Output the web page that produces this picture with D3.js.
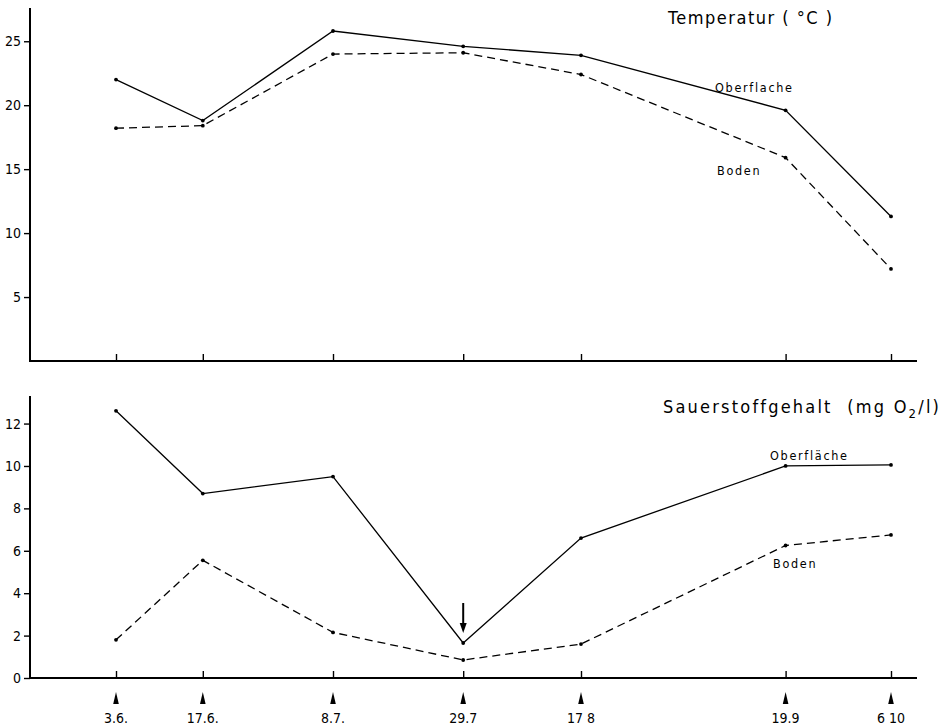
<!DOCTYPE html>
<html>
<head>
<meta charset="utf-8">
<script src="https://cdn.jsdelivr.net/npm/d3@7"></script>
<style>
  body { margin: 0; background: #fff; }
  text { font-family: "DejaVu Sans Condensed", "Liberation Sans Narrow", "DejaVu Sans", sans-serif; fill: #000; }
</style>
</head>
<body>
<div id="chart"></div>
<script>
// sampling dates and their printed labels
var sampleDates = ["1980-06-03", "1980-06-17", "1980-07-08", "1980-07-29", "1980-08-17", "1980-09-19", "1980-10-06"];
var dateLabels = ["3.6.", "17.6.", "8.7.", "29.7", "17 8", "19.9", "6 10"];

// Temperatur (°C)
var tempOberflache = [22.0, 18.8, 25.8, 24.6, 23.9, 19.6, 11.3];
var tempBoden = [18.2, 18.4, 24.0, 24.1, 22.4, 15.9, 7.2];
var tempTicks = [5, 10, 15, 20, 25];

// Sauerstoffgehalt (mg O2/l)
var o2Oberflache = [12.6, 8.7, 9.5, 1.65, 6.6, 10.0, 10.05];
var o2Boden = [1.8, 5.55, 2.15, 0.85, 1.6, 6.25, 6.75];
var o2Ticks = [0, 2, 4, 6, 8, 10, 12];

function init() {
    var w = 951;
    var h = 725;
    var left = 30, right = 917;

    var parse = d3.timeParse("%Y-%m-%d");
    var dates = sampleDates.map(parse);

    var svg = d3.select("#chart")
                .append("svg")
                .attr("width", w)
                .attr("height", h);

    // shared time axis
    var xScale = d3.scaleTime()
                .domain([dates[0], dates[dates.length - 1]])
                .range([116, 891]);

    // one y scale per panel
    var yTemp = d3.scaleLinear().domain([0, 27.6]).range([361, 8]);
    var yO2 = d3.scaleLinear().domain([0, 13.3]).range([678, 396]);

    function panel(yScale, ticks, series) {
        var g = svg.append("g");

        // y axis
        var yAxis = d3.axisLeft(yScale)
                    .tickValues(ticks)
                    .tickSize(6)
                    .tickPadding(3)
                    .tickFormat(d3.format("d"));
        var ya = g.append("g")
            .attr("transform", "translate(" + left + ",0)")
            .call(yAxis);
        ya.select(".domain").remove();
        ya.selectAll(".tick line").attr("stroke", "#000").attr("stroke-width", 1.4);
        ya.selectAll(".tick text")
            .style("font-size", "14px")
            .style("font-family", '"DejaVu Sans Condensed", sans-serif')
            .attr("fill", "#000");

        g.append("line")
            .attr("x1", left).attr("x2", left)
            .attr("y1", yScale.range()[1]).attr("y2", yScale(0) + 1)
            .attr("stroke", "#000").attr("stroke-width", 2);

        // x axis with small upward ticks
        var xAxis = d3.axisBottom(xScale)
                    .tickValues(dates)
                    .tickSize(-7)
                    .tickFormat("");
        var xa = g.append("g")
            .attr("transform", "translate(0," + yScale(0) + ")")
            .call(xAxis);
        xa.select(".domain").remove();
        xa.selectAll(".tick line").attr("stroke", "#000").attr("stroke-width", 1.4);

        g.append("line")
            .attr("x1", left).attr("x2", right)
            .attr("y1", yScale(0)).attr("y2", yScale(0))
            .attr("stroke", "#000").attr("stroke-width", 2);

        // lines and dots
        series.forEach(function(s) {
            var line = d3.line()
                .x(function(d, i) { return xScale(dates[i]); })
                .y(function(d) { return yScale(d); });

            g.append("path")
                .datum(s.values)
                .attr("d", line)
                .attr("fill", "none")
                .attr("stroke", "#000")
                .attr("stroke-width", 1.3)
                .attr("stroke-dasharray", s.dash);

            g.selectAll(null)
                .data(s.values)
                .enter()
                .append("circle")
                .attr("cx", function(d, i) { return xScale(dates[i]); })
                .attr("cy", function(d) { return yScale(d); })
                .attr("r", 1.9)
                .attr("fill", "#000");
        });
        return g;
    }

    panel(yTemp, tempTicks, [
        { values: tempOberflache, dash: null },
        { values: tempBoden, dash: "8,5" }
    ]);

    panel(yO2, o2Ticks, [
        { values: o2Oberflache, dash: null },
        { values: o2Boden, dash: "8,5" }
    ]);

    // titles
    svg.append("text")
        .attr("x", 668).attr("y", 24)
        .style("font-size", "18px")
        .style("letter-spacing", "1.5px")
        .attr("xml:space", "preserve")
        .text("Temperatur ( °C )");

    var t2 = svg.append("text")
        .attr("x", 663).attr("y", 413)
        .style("font-size", "18px")
        .style("letter-spacing", "2.2px")
        .attr("xml:space", "preserve");
    t2.append("tspan").text("Sauerstoffgehalt  (mg O");
    t2.append("tspan").attr("dy", 5).style("font-size", "13px").text("2");
    t2.append("tspan").attr("dy", -5).text("/l)");

    // series labels
    function label(x, y, txt) {
        svg.append("text")
            .attr("x", x).attr("y", y)
            .style("font-size", "12.5px")
            .style("letter-spacing", "1.7px")
            .text(txt);
    }
    label(715, 92, "Oberflache");
    label(717, 175, "Boden");
    label(770, 460, "Oberfläche");
    label(773, 568, "Boden");

    // date markers and labels under the lower axis
    svg.selectAll(".marker")
        .data(dates)
        .enter()
        .append("path")
        .attr("class", "marker")
        .attr("d", function(d) {
            var x = xScale(d);
            return "M" + x + ",692 L" + (x + 2.8) + ",704 L" + (x - 2.8) + ",704 Z";
        })
        .attr("fill", "#000");

    svg.selectAll(".datelabel")
        .data(dates)
        .enter()
        .append("text")
        .attr("class", "datelabel")
        .attr("x", function(d) { return xScale(d); })
        .attr("y", 723)
        .attr("text-anchor", "middle")
        .style("font-size", "14px")
        .text(function(d, i) { return dateLabels[i]; });

    // arrow pointing at the oxygen minimum
    var ax = xScale(dates[3]);
    var ay = yO2(o2Oberflache[3]);
    svg.append("line")
        .attr("x1", ax).attr("x2", ax)
        .attr("y1", ay - 40).attr("y2", ay - 18)
        .attr("stroke", "#000").attr("stroke-width", 2);
    svg.append("path")
        .attr("d", "M" + (ax - 3.5) + "," + (ay - 20) + " L" + (ax + 3.5) + "," + (ay - 20) + " L" + ax + "," + (ay - 10) + " Z")
        .attr("fill", "#000");
}
window.onload = init;
</script>
</body>
</html>
